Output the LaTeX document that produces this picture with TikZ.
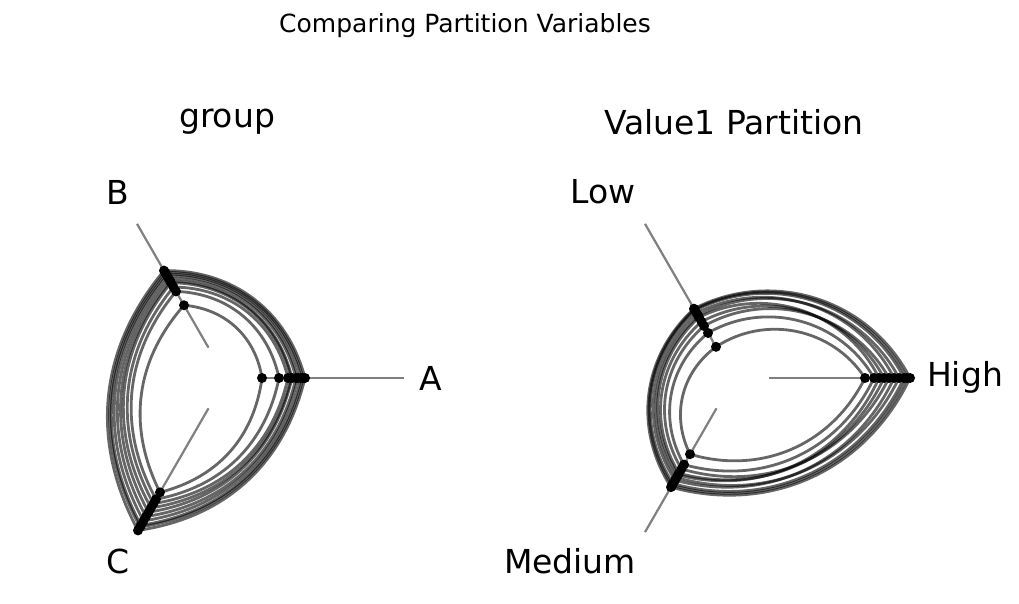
\documentclass[tikz,border=0pt]{standalone}
\usepackage{fontspec}
\setmainfont{DejaVu Sans}
\usetikzlibrary{calc}
\tikzset{
  axisline/.style={draw=black!50, line width=2.2pt},
  curve/.style={draw=black, line width=2.8pt, opacity=0.6},
  dot/.style={circle, fill=black, inner sep=0pt, minimum size=10pt},
  lbl/.style={font=\fontsize{33}{35}\selectfont},
}
\begin{document}
\begin{tikzpicture}[x=1pt,y=1pt]
\useasboundingbox (0,-604) rectangle (1019,0);
\node (title) at (465,-26) {\fontsize{25}{27}\selectfont Comparing Partition Variables};
% left panel
\coordinate (cl) at (226,-378);
\node[lbl] (tl) at (227,-122) {group};
\draw[axisline] (cl) ++(0:35) -- ++(0:143);
\draw[axisline] (cl) ++(120:35) -- ++(120:143);
\draw[axisline] (cl) ++(240:35) -- ++(240:143);
\node[lbl] (la) at (431,-378) {A};
\node[lbl] (lb) at (118,-192) {B};
\node[lbl] (lc) at (118,-561) {C};
\foreach \ra/\rb/\rc in {36/84/132,53/100/140,65/110/150,70/115/160,75/120/170,79/124/176,72/118/165,66/112/155,77/122/172,62/105/145}{
  \draw[curve] ($(cl)+(0:\ra)$) to[bend right=38] ($(cl)+(120:\rb)$) to[bend right=34] ($(cl)+(240:\rc)$) to[bend right=34] cycle;
  \node[dot] at ($(cl)+(0:\ra)$) {};
  \node[dot] at ($(cl)+(120:\rb)$) {};
  \node[dot] at ($(cl)+(240:\rc)$) {};
}
% right panel
\coordinate (cr) at (734,-378);
\node[lbl] (tr) at (734,-122) {Value1 Partition};
\draw[axisline] (cr) ++(0:35) -- ++(0:143);
\draw[axisline] (cr) ++(120:35) -- ++(120:143);
\draw[axisline] (cr) ++(240:35) -- ++(240:143);
\node[lbl] (rh) at (965,-377) {High};
\node[lbl] (rl) at (603,-192) {Low};
\node[lbl] (rm) at (570,-561) {Medium};
\foreach \rh/\rl/\rm in {131/36/88,140/52/100,150/65/110,160/75/118,170/78/122,176/80/126,165/72/115,155/60/105,173/79/124,145/70/112}{
  \draw[curve] ($(cr)+(0:\rh)$) to[bend right=45] ($(cr)+(120:\rl)$) to[bend right=40] ($(cr)+(240:\rm)$) to[bend right=40] cycle;
  \node[dot] at ($(cr)+(0:\rh)$) {};
  \node[dot] at ($(cr)+(120:\rl)$) {};
  \node[dot] at ($(cr)+(240:\rm)$) {};
}
\end{tikzpicture}
\end{document}
